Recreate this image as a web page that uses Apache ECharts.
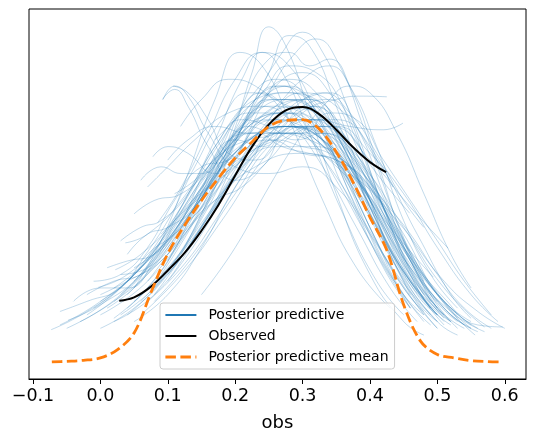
<!DOCTYPE html>
<html>
<head>
<meta charset="utf-8">
<script src="https://cdn.jsdelivr.net/npm/echarts@6/dist/echarts.min.js"></script>
<style>html,body{margin:0;padding:0;background:#fff}</style>
</head>
<body>
<!-- posterior predictive check, drawn with echarts -->
<div id="main" style="width:534px;height:443px"></div>

<script type="text/javascript">
    // tick labels of the obs axis
    var xTicks = [-0.1, 0.0, 0.1, 0.2, 0.3, 0.4, 0.5, 0.6];

    // observed density (black)
    var observed = [[0.028,0.91],[0.05,0.96],[0.075,1.12],[0.1,1.36],[0.125,1.62],[0.15,1.95],[0.175,2.33],
        [0.2,2.77],[0.225,3.20],[0.25,3.53],[0.275,3.74],[0.3,3.79],[0.325,3.68],[0.35,3.45],
        [0.375,3.19],[0.4,2.97],[0.424,2.82]];

    // posterior predictive mean (orange dashed)
    var ppMean = [[-0.072,0.0],[-0.05,0.01],[-0.025,0.025],[0.0,0.06],[0.025,0.18],[0.05,0.43],[0.075,1.03],
        [0.1,1.61],[0.125,2.03],[0.15,2.40],[0.175,2.73],[0.2,3.03],[0.225,3.27],[0.25,3.50],[0.275,3.59],
        [0.3,3.60],[0.325,3.46],[0.35,3.12],[0.375,2.67],[0.4,2.15],[0.425,1.66],[0.45,0.85],[0.475,0.31],
        [0.5,0.11],[0.525,0.06],[0.55,0.02],[0.575,0.005],[0.594,0.0]];

    // posterior predictive draws (thin blue)
    var ppSamples = [
        [[-0.073,0.48],[-0.02,0.75],[0.04,1.2],[0.1,1.9],[0.16,2.7],[0.22,3.3],[0.28,3.5],[0.34,3.2],[0.4,2.4],[0.46,1.4],[0.52,0.7],[0.56,0.45]],
        [[-0.048,0.62],[0.0,0.85],[0.06,1.3],[0.12,2.1],[0.18,3.0],[0.24,3.6],[0.29,3.8],[0.34,3.4],[0.4,2.4],[0.46,1.3],[0.51,0.65]],
        [[-0.003,1.11],[0.04,1.3],[0.09,1.8],[0.15,2.7],[0.21,3.5],[0.26,3.9],[0.31,3.8],[0.36,3.1],[0.42,1.9],[0.47,1.0],[0.5,0.7]],
        [[0.022,1.37],[0.06,1.6],[0.11,2.1],[0.16,2.8],[0.22,3.5],[0.27,3.7],[0.32,3.4],[0.38,2.5],[0.44,1.4],[0.5,0.6],[0.53,0.4]],
        [[0.037,1.77],[0.07,1.9],[0.12,2.4],[0.17,3.2],[0.22,3.9],[0.26,4.2],[0.3,4.0],[0.35,3.1],[0.4,2.0],[0.45,1.1],[0.48,0.75]],
        [[0.07,2.6],[0.1,2.9],[0.14,3.3],[0.19,3.7],[0.24,3.8],[0.29,3.5],[0.34,2.9],[0.39,2.1],[0.44,1.3],[0.49,0.7]],
        [[0.085,2.07],[0.12,2.6],[0.16,3.4],[0.2,4.2],[0.24,4.6],[0.28,4.4],[0.32,3.7],[0.37,2.5],[0.42,1.4],[0.46,0.8]],
        [[0.04,0.7],[0.09,1.2],[0.14,2.0],[0.19,3.2],[0.225,4.3],[0.25,4.98],[0.275,4.7],[0.31,3.7],[0.35,2.5],[0.4,1.3],[0.45,0.6],[0.48,0.4]],
        [[0.06,0.9],[0.11,1.5],[0.16,2.4],[0.21,3.5],[0.25,4.3],[0.28,4.85],[0.31,4.7],[0.35,3.8],[0.4,2.4],[0.45,1.2],[0.5,0.5]],
        [[0.08,1.1],[0.13,1.8],[0.18,2.8],[0.23,3.9],[0.27,4.6],[0.3,4.9],[0.33,4.6],[0.37,3.7],[0.42,2.3],[0.47,1.1],[0.51,0.55]],
        [[0.1,1.3],[0.15,2.0],[0.2,3.0],[0.25,4.0],[0.29,4.6],[0.32,4.8],[0.35,4.5],[0.39,3.5],[0.44,2.1],[0.49,1.0],[0.53,0.5]],
        [[0.02,0.9],[0.07,1.4],[0.12,2.3],[0.17,3.3],[0.21,4.2],[0.24,4.6],[0.27,4.3],[0.31,3.4],[0.36,2.2],[0.41,1.2],[0.45,0.7]],
        [[0.093,3.9],[0.11,4.1],[0.13,3.95],[0.16,3.4],[0.2,2.9],[0.25,2.8],[0.3,2.9],[0.35,2.6],[0.4,1.9],[0.45,1.1],[0.5,0.5]],
        [[0.119,3.5],[0.15,3.9],[0.19,4.2],[0.23,4.1],[0.28,3.6],[0.33,2.9],[0.38,2.0],[0.43,1.1],[0.47,0.6]],
        [[0.1,3.0],[0.13,3.3],[0.17,3.5],[0.22,3.4],[0.27,3.5],[0.32,3.3],[0.37,2.6],[0.42,1.6],[0.48,0.7]],
        [[0.06,0.7],[0.12,1.3],[0.18,2.1],[0.24,3.0],[0.3,3.7],[0.35,3.9],[0.39,3.95],[0.425,3.94]],
        [[0.08,0.9],[0.14,1.6],[0.2,2.5],[0.26,3.3],[0.32,3.6],[0.37,3.5],[0.42,3.45],[0.449,3.55]],
        [[0.15,1.0],[0.2,1.7],[0.25,2.6],[0.3,3.4],[0.34,3.9],[0.37,4.1],[0.4,4.0],[0.44,3.4],[0.48,2.5],[0.52,1.6],[0.55,1.1]],
        [[0.03,1.0],[0.08,1.5],[0.14,2.3],[0.2,3.1],[0.26,3.6],[0.32,3.6],[0.38,3.0],[0.44,2.0],[0.5,1.0],[0.55,0.5]],
        [[-0.03,0.6],[0.03,1.0],[0.09,1.7],[0.15,2.5],[0.21,3.2],[0.27,3.5],[0.33,3.3],[0.39,2.6],[0.45,1.6],[0.51,0.8],[0.55,0.5]],
        [[0.01,0.8],[0.06,1.2],[0.12,2.0],[0.18,3.0],[0.23,3.6],[0.28,3.7],[0.33,3.3],[0.38,2.5],[0.44,1.5],[0.49,0.8],[0.52,0.55]],
        [[0.05,1.2],[0.1,1.8],[0.15,2.6],[0.2,3.3],[0.25,3.6],[0.3,3.5],[0.35,3.0],[0.4,2.2],[0.46,1.2],[0.51,0.6]],
        [[-0.02,0.7],[0.04,1.2],[0.1,2.0],[0.16,2.9],[0.22,3.4],[0.28,3.4],[0.34,3.0],[0.4,2.3],[0.46,1.4],[0.52,0.75],[0.57,0.45]],
        [[-0.05,0.5],[0.02,0.9],[0.09,1.5],[0.16,2.3],[0.23,2.9],[0.3,3.1],[0.37,2.8],[0.44,2.1],[0.51,1.2],[0.56,0.75],[0.6,0.5]],
        [[0.04,1.0],[0.09,1.6],[0.15,2.6],[0.2,3.4],[0.25,3.8],[0.3,3.7],[0.35,3.2],[0.4,2.4],[0.45,1.5],[0.5,0.8],[0.54,0.5]],
        [[0.07,1.2],[0.12,1.9],[0.17,2.8],[0.22,3.6],[0.27,4.0],[0.32,3.9],[0.37,3.2],[0.42,2.1],[0.47,1.1],[0.5,0.7]],
        [[0.0,0.9],[0.06,1.4],[0.12,2.3],[0.18,3.3],[0.23,3.9],[0.28,4.0],[0.33,3.6],[0.38,2.7],[0.43,1.7],[0.49,0.8]],
        [[0.05,0.9],[0.11,1.5],[0.17,2.3],[0.23,3.1],[0.29,3.6],[0.35,3.6],[0.41,3.0],[0.47,1.9],[0.52,1.0],[0.55,0.65]],
        [[0.09,1.3],[0.14,2.1],[0.19,3.1],[0.24,3.9],[0.28,4.2],[0.32,4.0],[0.36,3.3],[0.41,2.2],[0.46,1.2],[0.5,0.7]],
        [[0.12,1.6],[0.16,2.3],[0.21,3.2],[0.26,3.8],[0.31,3.9],[0.36,3.4],[0.41,2.5],[0.46,1.5],[0.51,0.8],[0.54,0.55]],
        [[-0.01,0.8],[0.05,1.3],[0.11,2.1],[0.17,3.0],[0.23,3.7],[0.28,3.9],[0.33,3.6],[0.38,2.8],[0.43,1.8],[0.48,0.95],[0.52,0.6]],
        [[0.03,0.7],[0.09,1.2],[0.15,2.0],[0.21,2.9],[0.27,3.4],[0.33,3.4],[0.39,2.9],[0.45,2.0],[0.51,1.1],[0.57,0.52]],
        [[0.06,1.5],[0.1,2.1],[0.14,2.9],[0.18,3.6],[0.22,4.0],[0.26,3.9],[0.3,3.5],[0.35,2.7],[0.4,1.8],[0.45,1.0],[0.48,0.7]],
        [[0.02,1.1],[0.07,1.5],[0.13,2.2],[0.19,3.0],[0.25,3.4],[0.31,3.3],[0.37,2.8],[0.43,2.0],[0.494,1.26]],
        [[0.08,1.0],[0.13,1.7],[0.19,2.7],[0.25,3.6],[0.3,4.0],[0.35,3.8],[0.4,3.2],[0.434,2.6]],
        [[0.1,1.2],[0.15,1.9],[0.2,2.8],[0.26,3.6],[0.31,3.8],[0.36,3.5],[0.41,2.8],[0.459,2.21]],
        [[0.04,0.8],[0.1,1.4],[0.16,2.2],[0.22,3.0],[0.28,3.5],[0.34,3.5],[0.4,3.0],[0.46,2.3],[0.516,1.69]],
        [[-0.06,0.55],[0.0,0.9],[0.07,1.5],[0.14,2.4],[0.21,3.2],[0.27,3.5],[0.33,3.3],[0.39,2.6],[0.45,1.7],[0.51,0.95],[0.56,0.55],[0.597,0.52]],
        [[0.0,0.7],[0.07,1.2],[0.14,2.1],[0.21,3.0],[0.27,3.5],[0.33,3.4],[0.39,2.8],[0.45,1.9],[0.5,1.0],[0.556,0.4]],
        [[0.05,1.1],[0.09,1.8],[0.13,2.8],[0.17,3.9],[0.207,4.6],[0.24,4.4],[0.28,3.6],[0.33,2.4],[0.38,1.4],[0.43,0.8]],
        [[0.12,2.0],[0.16,2.6],[0.21,3.4],[0.26,4.1],[0.3,4.3],[0.34,4.0],[0.38,3.2],[0.42,2.2],[0.47,1.2],[0.52,0.6]],
        [[0.02,0.6],[0.08,1.0],[0.14,1.8],[0.2,2.7],[0.26,3.2],[0.32,3.2],[0.38,2.7],[0.44,1.8],[0.5,1.0],[0.55,0.55]],
        [[0.14,2.4],[0.17,2.9],[0.21,3.5],[0.25,3.9],[0.29,3.9],[0.33,3.5],[0.37,2.8],[0.42,1.8],[0.47,0.9],[0.5,0.6]],
        [[0.05,1.4],[0.09,1.7],[0.14,2.3],[0.19,3.0],[0.24,3.4],[0.29,3.5],[0.34,3.2],[0.39,2.5],[0.44,1.6],[0.48,1.0]],
        [[0.092,3.9],[0.11,4.05],[0.13,3.8],[0.16,3.2],[0.2,2.7],[0.24,2.9],[0.28,3.4],[0.32,3.3],[0.36,2.6],[0.41,1.6],[0.46,0.8]],
        [[0.108,4.1],[0.13,4.0],[0.16,3.6],[0.19,3.1],[0.23,3.0],[0.27,3.3],[0.31,3.5],[0.35,3.0],[0.4,2.0],[0.45,1.0],[0.49,0.55]],
        [[0.078,3.05],[0.1,3.2],[0.13,3.1],[0.17,2.8],[0.21,3.0],[0.25,3.5],[0.29,3.7],[0.33,3.3],[0.38,2.3],[0.43,1.3],[0.48,0.6]],
        [[0.04,1.6],[0.07,1.9],[0.1,2.0],[0.14,2.3],[0.18,3.0],[0.22,3.5],[0.26,3.4],[0.3,3.6],[0.34,3.5],[0.39,2.6],[0.44,1.5],[0.5,0.7]],
        [[-0.04,0.9],[0.0,1.1],[0.04,1.1],[0.08,1.5],[0.12,2.2],[0.16,2.6],[0.2,2.9],[0.25,3.5],[0.3,3.6],[0.35,3.1],[0.4,2.2],[0.46,1.2],[0.52,0.6]],
        [[0.01,1.4],[0.04,1.5],[0.08,1.6],[0.12,2.1],[0.16,2.9],[0.2,3.3],[0.24,3.2],[0.28,3.6],[0.32,3.8],[0.36,3.2],[0.41,2.1],[0.46,1.1],[0.5,0.6]],
        [[-0.06,0.75],[-0.02,0.9],[0.03,1.1],[0.07,1.6],[0.11,1.9],[0.15,2.3],[0.2,3.0],[0.25,3.3],[0.3,3.1],[0.35,3.0],[0.4,2.6],[0.45,1.8],[0.5,1.0],[0.55,0.6]],
        [[0.05,2.2],[0.08,2.4],[0.12,2.5],[0.16,2.9],[0.2,3.6],[0.24,4.0],[0.28,3.8],[0.32,3.7],[0.36,3.2],[0.41,2.0],[0.46,1.0]],
        [[0.06,2.7],[0.09,2.9],[0.12,2.8],[0.15,2.8],[0.19,3.3],[0.23,3.9],[0.27,4.1],[0.31,3.7],[0.36,2.8],[0.41,1.7],[0.46,0.8]],
        [[0.0,1.0],[0.04,1.2],[0.09,1.5],[0.13,2.0],[0.17,2.4],[0.21,2.6],[0.25,3.0],[0.29,3.4],[0.33,3.5],[0.37,3.1],[0.42,2.3],[0.47,1.4],[0.53,0.7]],
        [[0.03,1.8],[0.06,2.0],[0.09,2.1],[0.13,2.5],[0.17,3.2],[0.21,3.6],[0.25,3.5],[0.29,3.3],[0.33,3.4],[0.37,3.1],[0.42,2.2],[0.47,1.2],[0.51,0.7]],
        [[0.07,0.9],[0.12,1.4],[0.17,2.1],[0.22,2.9],[0.26,3.4],[0.3,3.4],[0.34,3.7],[0.38,3.6],[0.42,3.0],[0.46,2.4],[0.5,1.8],[0.54,1.2],[0.58,0.7]],
        [[0.1,1.5],[0.14,2.2],[0.18,2.9],[0.22,3.5],[0.26,3.8],[0.3,4.2],[0.34,4.4],[0.37,4.1],[0.41,3.2],[0.45,2.1],[0.49,1.3],[0.53,0.8]],
        [[0.13,2.1],[0.17,2.8],[0.21,3.8],[0.25,4.5],[0.28,4.6],[0.31,4.4],[0.34,4.5],[0.37,4.1],[0.41,3.0],[0.45,1.8],[0.49,0.9]],
        [[0.02,0.65],[0.07,1.1],[0.12,1.8],[0.17,2.6],[0.22,3.1],[0.26,3.3],[0.3,3.5],[0.34,3.3],[0.38,2.9],[0.42,2.4],[0.46,1.9],[0.5,1.3],[0.54,0.8],[0.58,0.5]],
        [[-0.01,1.2],[0.03,1.3],[0.07,1.7],[0.11,2.4],[0.15,2.9],[0.19,3.0],[0.23,3.3],[0.27,3.8],[0.31,3.9],[0.35,3.4],[0.4,2.3],[0.45,1.3],[0.49,0.8]],
        [[0.15,2.7],[0.18,3.1],[0.22,3.7],[0.26,4.1],[0.3,4.0],[0.34,3.6],[0.38,3.1],[0.42,2.3],[0.46,1.5],[0.5,0.9]],
        [[0.05,0.6],[0.1,1.0],[0.15,1.7],[0.2,2.6],[0.25,3.3],[0.29,3.8],[0.33,4.0],[0.37,3.7],[0.41,3.1],[0.45,2.4],[0.48,2.0]],
        [[0.17,3.3],[0.2,3.6],[0.24,4.0],[0.28,4.4],[0.32,4.3],[0.36,3.8],[0.4,2.8],[0.44,1.8],[0.48,1.0],[0.51,0.7]],
        [[-0.02,1.0],[0.02,1.2],[0.06,1.3],[0.1,1.7],[0.14,2.3],[0.18,2.8],[0.22,3.1],[0.26,3.3],[0.3,3.2],[0.34,3.1],[0.38,2.8],[0.42,2.2],[0.47,1.4],[0.52,0.8],[0.56,0.5]],
        [[0.09,1.9],[0.12,2.2],[0.16,2.6],[0.2,3.3],[0.24,3.9],[0.28,4.1],[0.32,3.8],[0.36,3.3],[0.4,2.8],[0.44,2.0],[0.48,1.2]],
        [[0.04,1.2],[0.08,1.6],[0.12,2.0],[0.16,2.4],[0.2,3.0],[0.24,3.6],[0.28,3.7],[0.32,3.3],[0.36,3.0],[0.4,2.6],[0.44,1.9],[0.49,1.0],[0.53,0.6]],
        [[0.11,2.5],[0.14,2.7],[0.18,3.1],[0.22,3.3],[0.26,3.4],[0.3,3.8],[0.34,3.9],[0.38,3.3],[0.42,2.3],[0.46,1.4],[0.5,0.8]],
        [[0.0,0.5],[0.05,0.8],[0.1,1.3],[0.15,2.0],[0.2,2.8],[0.25,3.3],[0.3,3.5],[0.35,3.5],[0.4,3.1],[0.45,2.5],[0.5,1.7],[0.55,1.0],[0.59,0.6]],
        [[0.06,1.0],[0.1,1.5],[0.14,2.3],[0.18,3.2],[0.22,3.7],[0.26,3.7],[0.3,3.9],[0.34,4.0],[0.38,3.5],[0.42,2.5],[0.46,1.5],[0.5,0.8]],
        [[0.03,1.3],[0.07,1.4],[0.11,1.8],[0.15,2.5],[0.19,3.2],[0.23,3.4],[0.27,3.2],[0.31,3.1],[0.35,3.0],[0.39,2.7],[0.43,2.1],[0.48,1.3],[0.53,0.65]]
    ];

    var FONT = 'DejaVu Sans';
    var myChart = echarts.init(document.getElementById('main'));

    var series = [];
    ppSamples.forEach(function (s) {
        series.push({
            name: 'Posterior predictive', type: 'line', data: s, smooth: 0.5,
            symbol: 'none', silent: true,
            lineStyle: {color: '#1f77b4', width: 1, opacity: 0.27}
        });
    });
    series.push({
        name: 'Observed', type: 'line', data: observed, smooth: 0.4, symbol: 'none',
        lineStyle: {color: '#000', width: 2}, z: 3
    });
    series.push({
        name: 'Posterior predictive mean', type: 'line', data: ppMean, smooth: 0.35, symbol: 'none',
        lineStyle: {color: '#ff7f0e', width: 2.8, type: [10.5, 4.5]}, z: 4
    });

    var option = {
        animation: false,
        grid: {left: 29, right: 8, top: 9, bottom: 64, show: true, borderColor: '#000', borderWidth: 1},
        xAxis: {
            type: 'value', min: -0.1059, max: 0.6315,
            name: 'obs', nameLocation: 'middle', nameGap: 35,
            nameTextStyle: {fontFamily: FONT, fontSize: 18, color: '#000'},
            axisLine: {onZero: false, lineStyle: {color: '#000', width: 1}},
            axisTick: {customValues: xTicks, length: 5, lineStyle: {color: '#000'}},
            axisLabel: {
                customValues: xTicks, margin: 8, fontFamily: FONT, fontSize: 17.5, color: '#000',
                formatter: function (v) { return (v < 0 ? '\u2212' : '') + Math.abs(v).toFixed(1); }
            },
            splitLine: {show: false}
        },
        yAxis: {type: 'value', min: -0.253, max: 5.245, show: false, splitLine: {show: false}},
        legend: {
            orient: 'vertical', left: 160, top: 303, z: 10,
            padding: [5, 6, 5, 4], itemGap: 7, itemWidth: 31, itemHeight: 14,
            backgroundColor: 'rgba(255,255,255,0.8)', borderColor: '#cccccc', borderWidth: 1, borderRadius: 3,
            textStyle: {fontFamily: FONT, fontSize: 14, color: '#000', padding: [0, 0, 0, 7]},
            data: [
                {name: 'Posterior predictive', itemStyle: {opacity: 0}, lineStyle: {color: '#1f77b4', width: 2, opacity: 1}},
                {name: 'Observed', itemStyle: {opacity: 0}, lineStyle: {color: '#000', width: 2}},
                {name: 'Posterior predictive mean', itemStyle: {opacity: 0}, lineStyle: {color: '#ff7f0e', width: 2.8, type: [10.5, 4.5]}}
            ]
        },
        series: series
    };

    myChart.setOption(option);
</script>
</body>
</html>
